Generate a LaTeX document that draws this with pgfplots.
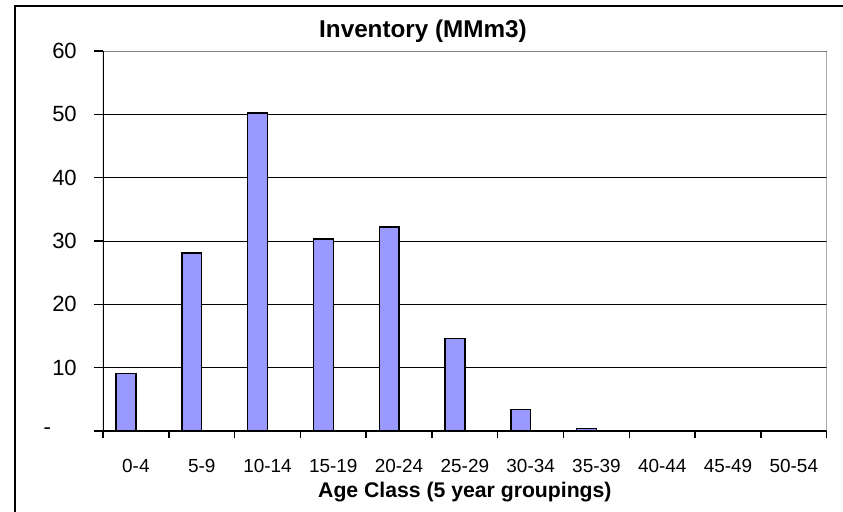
\documentclass[border=0pt]{standalone}
\usepackage{pgfplots}
\pgfplotsset{compat=1.18}
\usepackage{fontspec}
\setmainfont{Liberation Sans}
\definecolor{barblue}{HTML}{9999FF}
\definecolor{framegray}{HTML}{808080}

% inventory by age class, bars sit a little left of the category centre
\pgfplotstableread{
x    v
0    9.1
1    28.1
2    50.2
3    30.3
4    32.2
5    14.6
6    3.4
7    0.4
8    0
9    0
10   0
}\inventory

\begin{document}
\begin{tikzpicture}
\begin{axis}[
    scale only axis,
    width=542.8pt, height=285pt,
    xmin=-0.5, xmax=10.5,
    ymin=0, ymax=60,
    axis line style={draw=none},
    tick align=outside,
    xtick={0,...,10},
    xticklabels={0-4,5-9,10-14,15-19,20-24,25-29,30-34,35-39,40-44,45-49,50-54},
    minor xtick={-0.5,0.5,...,10.5},
    xtick pos=bottom, ytick pos=left,
    major x tick style={draw=none},
    minor x tick style={black, line width=1.1pt},
    minor tick length=5.25pt,
    ytick={0,10,...,60},
    yticklabels={{\makebox[24.75pt][l]{-}},10,20,30,40,50,60},
    major y tick style={black, line width=1.1pt},
    major tick length=6.75pt,
    ymajorgrids,
    grid style={black, line width=0.75pt},
    xticklabel style={font=\fontsize{14.2}{16}\selectfont, anchor=base, yshift=-24pt},
    yticklabel style={font=\fontsize{16.5}{19}\selectfont, anchor=east, inner sep=0pt, xshift=-12.75pt},
]
\addplot[ybar, bar width=0.3, bar shift=-0.15, fill=barblue, draw=black, line width=1.1pt]
    table[x=x, y=v] {\inventory};
\draw[framegray, line width=1.1pt] (rel axis cs:0,1) -- (rel axis cs:1,1) -- (rel axis cs:1,0);
\draw[black, line width=1.1pt] (rel axis cs:0,1) -- (rel axis cs:0,0) -- (rel axis cs:1,0);
\end{axis}
\pgfresetboundingbox
\path[use as bounding box] (-77.25pt,-60pt) rectangle (555pt,323.25pt);
\draw[black, line width=1.6pt] (-66pt,-70pt) -- (-66pt,318.75pt) -- (570pt,318.75pt);
\node[anchor=base] at (240pt,294.75pt) {\bfseries\fontsize{18.2}{21}\selectfont Inventory (MMm3)};
\node[anchor=base] at (271.4pt,-49.5pt) {\bfseries\fontsize{15.9}{18}\selectfont Age Class (5 year groupings)};
\end{tikzpicture}
\end{document}
